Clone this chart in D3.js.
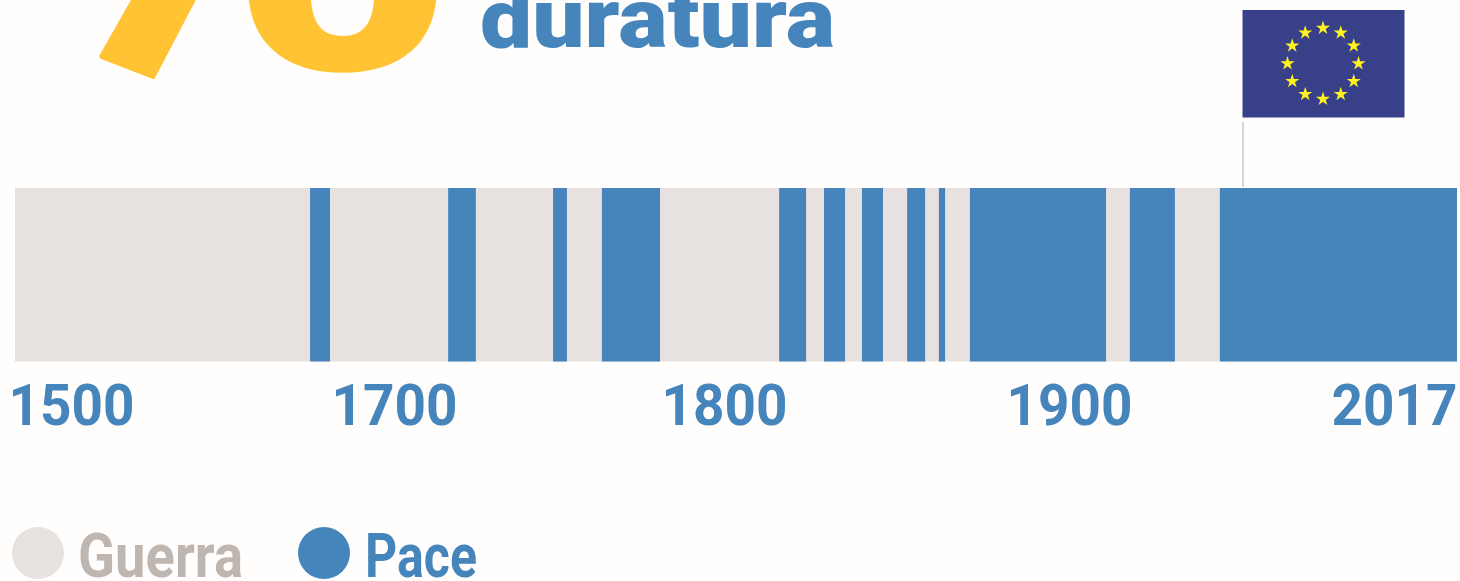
<!DOCTYPE html>
<html>
<head>
<meta charset="utf-8">
<script src="https://cdn.jsdelivr.net/npm/d3@7"></script>
<style>
  html, body { margin: 0; padding: 0; background: #fffefc; overflow: hidden; }
  text { font-family: Roboto, sans-serif; font-weight: 700; }
</style>
</head>
<body>
<div id="chart"></div>
<script>
/* DATA */
// years of peace; everything else in 1500-2017 is war
const peaceStart = [1655.3, 1716.1, 1747.9, 1762.7, 1815.7, 1828.7, 1839.7, 1852.8, 1862, 1871, 1918.1, 1945.3];
const peaceEnd = [1665.8, 1724.5, 1752.1, 1780.3, 1823.5, 1834.8, 1845.8, 1858, 1863.8, 1910.9, 1931.7, 2017];
const tickYears = [1500, 1700, 1800, 1900, 2017];
const legendLabels = ["Guerra", "Pace"];
const headline = "duratura";

/* CONSTANTS */
const width = 1460,
  height = 581,
  blue = "#4585bc",
  warGrey = "#e7e2df",
  warText = "#c0b6b0",
  yellow = "#ffc334";

const svg = d3.select("#chart")
  .append("svg")
  .attr("width", width)
  .attr("height", height);

// the axis of the original is not even, so it needs one segment per label
const xScale = d3.scaleLinear()
  .domain(tickYears)
  .range([15, 395, 725, 1070, 1457]);

const barTop = 188, barBottom = 361.5;

/* BAR */
svg.append("rect")
  .attr("x", xScale(1500))
  .attr("y", barTop)
  .attr("width", xScale(2017) - xScale(1500))
  .attr("height", barBottom - barTop)
  .attr("fill", warGrey);

const peace = peaceStart.map((d, i) => ({ start: d, end: peaceEnd[i] }));

svg.selectAll("rect.peace")
  .data(peace)
  .join("rect")
  .attr("class", "peace")
  .attr("x", d => xScale(d.start))
  .attr("y", barTop)
  .attr("width", d => xScale(d.end) - xScale(d.start))
  .attr("height", barBottom - barTop)
  .attr("fill", blue);

/* AXIS */
const xAxis = d3.axisBottom(xScale)
  .tickValues(tickYears)
  .tickFormat(d3.format("d"))
  .tickSize(0)
  .tickPadding(0);

const axisG = svg.append("g")
  .attr("transform", `translate(0, 425)`)
  .call(xAxis);
axisG.select(".domain").remove();
axisG.selectAll("text")
  .attr("y", 0)
  .attr("dy", 0)
  .attr("font-size", 58)
  .attr("fill", blue)
  .attr("textLength", 126)
  .attr("lengthAdjust", "spacingAndGlyphs")
  .attr("text-anchor", (d, i) => i === 0 ? "start" : i === tickYears.length - 1 ? "end" : "middle")
  .attr("dx", (d, i) => i === 0 ? -7 : i === tickYears.length - 1 ? 0 : -1);

/* LEGEND */
const legendX = [38, 324];
const legendTextX = [78, 365];
const legendTextW = [165, 112];

svg.selectAll("circle.legend")
  .data(legendLabels)
  .join("circle")
  .attr("class", "legend")
  .attr("cx", (d, i) => legendX[i])
  .attr("cy", 553)
  .attr("r", 26)
  .attr("fill", (d, i) => i === 0 ? warGrey : blue);

svg.selectAll("text.legend")
  .data(legendLabels)
  .join("text")
  .attr("class", "legend")
  .attr("x", (d, i) => legendTextX[i])
  .attr("y", 577)
  .attr("font-size", 62)
  .attr("textLength", (d, i) => legendTextW[i])
  .attr("lengthAdjust", "spacingAndGlyphs")
  .attr("fill", (d, i) => i === 0 ? warText : blue)
  .text(d => d);

/* TITLE (cropped by the top of the picture) */
// the 7 has a tilted foot in the original, skewY gets close to it
svg.append("text")
  .attr("transform", "translate(101, 57) skewY(21)")
  .attr("x", -29)
  .attr("y", 0)
  .attr("font-size", 290)
  .style("font-weight", 900)
  .attr("textLength", 172)
  .attr("lengthAdjust", "spacingAndGlyphs")
  .attr("fill", yellow)
  .attr("stroke", yellow)
  .attr("stroke-width", 4)
  .attr("stroke-linejoin", "round")
  .text("7");

svg.append("text")
  .attr("x", 232)
  .attr("y", 70)
  .attr("font-size", 290)
  .style("font-weight", 900)
  .attr("textLength", 221)
  .attr("lengthAdjust", "spacingAndGlyphs")
  .attr("fill", yellow)
  .text("0");

svg.append("text")
  .attr("x", 480)
  .attr("y", 47)
  .attr("font-size", 84)
  .style("font-weight", 900)
  .attr("textLength", 355)
  .attr("lengthAdjust", "spacingAndGlyphs")
  .attr("fill", blue)
  .text(headline);

/* FLAG */
const flag = svg.append("g");
flag.append("line")
  .attr("x1", 1243).attr("x2", 1243)
  .attr("y1", 122).attr("y2", 187)
  .attr("stroke", "#c9c9c7")
  .attr("stroke-width", 1.5);
flag.append("rect")
  .attr("x", 1242.5).attr("y", 10)
  .attr("width", 162).attr("height", 107.5)
  .attr("fill", "#39408a");

const star = d3.symbol().type(d3.symbolStar).size(62);
flag.selectAll("path")
  .data(d3.range(12))
  .join("path")
  .attr("d", star)
  .attr("fill", "#fff21f")
  .attr("transform", d => {
    const a = d * Math.PI / 6;
    return `translate(${1323 + 35.5 * Math.sin(a)}, ${63.5 - 35.5 * Math.cos(a)})`;
  });
</script>
</body>
</html>
